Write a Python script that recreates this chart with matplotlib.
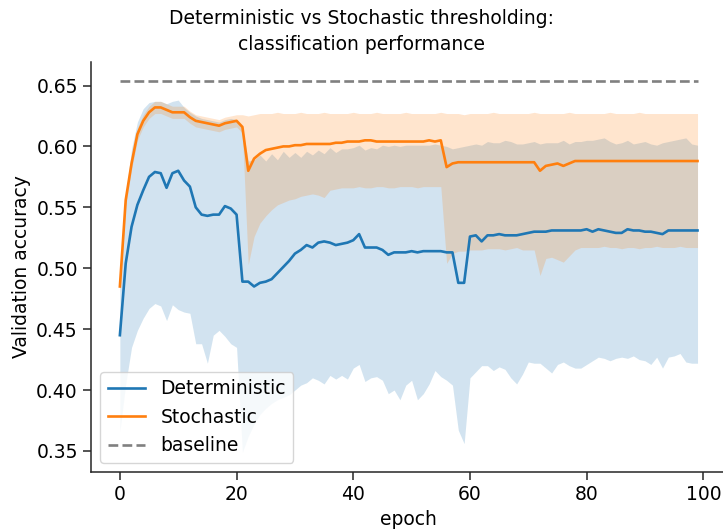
import numpy as np
from matplotlib import pyplot as plt

# validation accuracy per epoch, mean and band edges for both thresholding modes
det_mean = [0.445, 0.504, 0.534, 0.552, 0.564, 0.575, 0.579, 0.578, 0.566, 0.578,
            0.580, 0.572, 0.567, 0.550, 0.544, 0.543, 0.544, 0.544, 0.551, 0.549,
            0.544, 0.489, 0.489, 0.485, 0.488, 0.489, 0.491, 0.496, 0.501, 0.506,
            0.512, 0.515, 0.519, 0.517, 0.521, 0.522, 0.521, 0.519, 0.520, 0.521,
            0.523, 0.528, 0.517, 0.517, 0.517, 0.515, 0.511, 0.513, 0.513, 0.513,
            0.514, 0.513, 0.514, 0.514, 0.514, 0.514, 0.513, 0.513, 0.488, 0.488,
            0.526, 0.527, 0.522, 0.527, 0.527, 0.528, 0.527, 0.527, 0.527, 0.528,
            0.529, 0.530, 0.530, 0.530, 0.531, 0.531, 0.531, 0.531, 0.531, 0.531,
            0.532, 0.530, 0.532, 0.531, 0.530, 0.529, 0.529, 0.532, 0.531, 0.531,
            0.530, 0.530, 0.529, 0.528, 0.531, 0.531, 0.531, 0.531, 0.531, 0.531]
det_hi = [0.488, 0.560, 0.598, 0.620, 0.631, 0.636, 0.637, 0.637, 0.635, 0.637,
          0.638, 0.632, 0.628, 0.625, 0.623, 0.622, 0.621, 0.620, 0.622, 0.623,
          0.622, 0.616, 0.588, 0.589, 0.593, 0.588, 0.594, 0.589, 0.596, 0.591,
          0.595, 0.591, 0.596, 0.593, 0.597, 0.594, 0.599, 0.595, 0.598, 0.598,
          0.599, 0.601, 0.597, 0.599, 0.598, 0.601, 0.600, 0.601, 0.600, 0.601,
          0.601, 0.601, 0.601, 0.601, 0.602, 0.601, 0.600, 0.598, 0.599, 0.600,
          0.601, 0.602, 0.601, 0.604, 0.603, 0.603, 0.605, 0.604, 0.602, 0.602,
          0.603, 0.604, 0.602, 0.603, 0.603, 0.603, 0.605, 0.602, 0.604, 0.604,
          0.605, 0.605, 0.606, 0.607, 0.604, 0.602, 0.603, 0.605, 0.602, 0.603,
          0.604, 0.602, 0.601, 0.603, 0.604, 0.605, 0.606, 0.607, 0.602, 0.601]
det_lo = [0.366, 0.405, 0.435, 0.449, 0.459, 0.467, 0.471, 0.469, 0.457, 0.470,
          0.466, 0.464, 0.463, 0.438, 0.438, 0.422, 0.445, 0.449, 0.444, 0.438,
          0.435, 0.349, 0.362, 0.372, 0.380, 0.385, 0.389, 0.392, 0.394, 0.396,
          0.400, 0.404, 0.406, 0.410, 0.408, 0.405, 0.412, 0.409, 0.412, 0.409,
          0.418, 0.421, 0.407, 0.410, 0.411, 0.408, 0.397, 0.400, 0.392, 0.404,
          0.408, 0.392, 0.397, 0.405, 0.416, 0.411, 0.408, 0.404, 0.367, 0.356,
          0.410, 0.415, 0.420, 0.420, 0.416, 0.419, 0.417, 0.410, 0.405, 0.413,
          0.423, 0.422, 0.422, 0.418, 0.414, 0.421, 0.423, 0.420, 0.418, 0.418,
          0.421, 0.424, 0.427, 0.426, 0.424, 0.426, 0.427, 0.426, 0.428, 0.425,
          0.424, 0.421, 0.427, 0.418, 0.427, 0.428, 0.430, 0.423, 0.422, 0.422]

sto_mean = [0.485, 0.556, 0.586, 0.610, 0.621, 0.628, 0.632, 0.632, 0.630, 0.628,
            0.628, 0.628, 0.624, 0.621, 0.620, 0.619, 0.618, 0.617, 0.619, 0.620,
            0.621, 0.616, 0.580, 0.590, 0.594, 0.597, 0.598, 0.599, 0.600, 0.600,
            0.601, 0.601, 0.602, 0.602, 0.602, 0.602, 0.602, 0.603, 0.603, 0.604,
            0.604, 0.604, 0.605, 0.605, 0.604, 0.604, 0.604, 0.604, 0.604, 0.604,
            0.604, 0.604, 0.604, 0.605, 0.604, 0.605, 0.583, 0.586, 0.587, 0.587,
            0.587, 0.587, 0.587, 0.587, 0.587, 0.587, 0.587, 0.587, 0.587, 0.587,
            0.587, 0.587, 0.580, 0.584, 0.585, 0.586, 0.584, 0.586, 0.588, 0.588,
            0.588, 0.588, 0.588, 0.588, 0.588, 0.588, 0.588, 0.588, 0.588, 0.588,
            0.588, 0.588, 0.588, 0.588, 0.588, 0.588, 0.588, 0.588, 0.588, 0.588]
sto_hi = [0.490, 0.561, 0.591, 0.615, 0.626, 0.633, 0.637, 0.637, 0.635, 0.633,
          0.633, 0.633, 0.629, 0.626, 0.625, 0.624, 0.623, 0.622, 0.624, 0.625,
          0.626, 0.626, 0.625, 0.626, 0.627, 0.627, 0.627, 0.628, 0.627, 0.627,
          0.627, 0.628, 0.627, 0.627, 0.627, 0.628, 0.627, 0.627, 0.627, 0.627,
          0.628, 0.627, 0.627, 0.627, 0.628, 0.627, 0.627, 0.627, 0.627, 0.628,
          0.627, 0.627, 0.627, 0.627, 0.627, 0.628, 0.627, 0.627, 0.627, 0.626,
          0.627, 0.627, 0.627, 0.627, 0.628, 0.627, 0.627, 0.627, 0.627, 0.627,
          0.627, 0.628, 0.627, 0.627, 0.627, 0.627, 0.627, 0.628, 0.627, 0.627,
          0.627, 0.627, 0.627, 0.627, 0.628, 0.627, 0.627, 0.627, 0.627, 0.628,
          0.627, 0.627, 0.627, 0.627, 0.627, 0.627, 0.627, 0.627, 0.627, 0.627]
sto_lo = [0.480, 0.551, 0.581, 0.605, 0.616, 0.623, 0.627, 0.627, 0.625, 0.623,
          0.623, 0.623, 0.619, 0.616, 0.615, 0.614, 0.613, 0.612, 0.614, 0.615,
          0.616, 0.611, 0.503, 0.526, 0.537, 0.543, 0.548, 0.552, 0.554, 0.556,
          0.557, 0.559, 0.560, 0.561, 0.560, 0.558, 0.564, 0.565, 0.566, 0.566,
          0.566, 0.567, 0.566, 0.566, 0.567, 0.567, 0.566, 0.566, 0.567, 0.567,
          0.567, 0.566, 0.567, 0.567, 0.567, 0.567, 0.504, 0.512, 0.514, 0.514,
          0.515, 0.515, 0.515, 0.516, 0.516, 0.516, 0.515, 0.516, 0.517, 0.515,
          0.515, 0.515, 0.494, 0.508, 0.509, 0.507, 0.505, 0.510, 0.515, 0.517,
          0.517, 0.517, 0.517, 0.518, 0.517, 0.517, 0.516, 0.517, 0.517, 0.516,
          0.517, 0.517, 0.518, 0.517, 0.517, 0.517, 0.518, 0.517, 0.517, 0.517]

baseline = 0.654

epochs = np.arange(len(det_mean))

plt.rcParams["font.family"] = "DejaVu Sans"
plt.rcParams["font.size"] = 13.5

fig = plt.figure(figsize=(7.23, 5.29), dpi=100)
ax = fig.add_axes([91 / 723, 57 / 529, 635.4 / 723, 410 / 529])

ax.fill_between(epochs, det_lo, det_hi, color="C0", alpha=0.2, linewidth=0)
ax.fill_between(epochs, sto_lo, sto_hi, color="C1", alpha=0.2, linewidth=0)
ax.plot(epochs, det_mean, color="C0", lw=1.9, label="Deterministic")
ax.plot(epochs, sto_mean, color="C1", lw=1.9, label="Stochastic")
ax.plot(epochs, [baseline] * len(epochs), "--", color="gray", lw=1.9,
        label="baseline")

ax.set_xlim(-4.95, 103.95)
ax.set_ylim(0.3327, 0.6693)
ax.set_xticks([0, 20, 40, 60, 80, 100])
ax.set_yticks([0.35, 0.40, 0.45, 0.50, 0.55, 0.60, 0.65])
ax.tick_params(length=6, width=1.1, labelsize=13.5, color="0.15")
for s in ["top", "right"]:
    ax.spines[s].set_visible(False)
for s in ["left", "bottom"]:
    ax.spines[s].set_linewidth(1.1)
    ax.spines[s].set_color("0.15")

ax.set_xlabel("epoch", fontsize=13.5)
ax.set_ylabel("Validation accuracy", fontsize=13.5)
fig.suptitle("Deterministic vs Stochastic thresholding:\nclassification performance",
             x=0.5, y=0.983, va="top", fontsize=13.5, linespacing=1.5)
ax.legend(loc="lower left", fontsize=13.5)

plt.savefig("out.png", dpi=100)
plt.close()
